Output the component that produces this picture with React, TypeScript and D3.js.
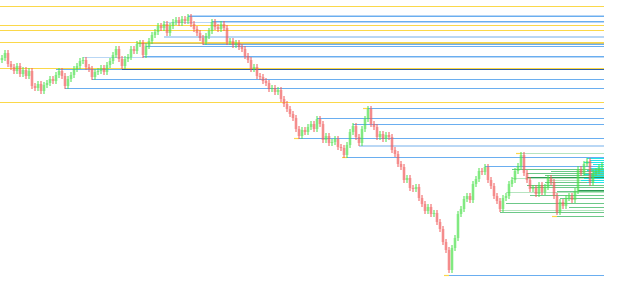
import React from "react";
import * as d3 from "d3";

const W = 625;
const H = 292;

// closing prices, one per bar
const closes = [
  242, 247, 236, 233, 229, 234, 226, 230, 224, 229,
  214, 212, 216, 209, 215, 217, 221, 219, 225, 229,
  224, 214, 221, 225, 231, 234, 239, 240, 233, 231,
  223, 228, 229, 232, 228, 235, 239, 245, 251, 241,
  234, 241, 243, 251, 249, 256, 257, 245, 254, 259,
  265, 268, 274, 272, 276, 267, 274, 278, 280, 277,
  281, 279, 283, 276, 271, 267, 262, 258, 264, 269,
  278, 273, 271, 276, 272, 258, 259, 255, 257, 253,
  251, 244, 240, 231, 233, 224, 223, 219, 217, 211,
  212, 208, 210, 201, 196, 191, 186, 182, 171, 164,
  170, 168, 173, 176, 171, 181, 176, 160, 164, 157,
  158, 161, 153, 152, 145, 155, 168, 174, 163, 157,
  171, 181, 191, 176, 173, 163, 166, 161, 165, 163,
  150, 146, 136, 133, 120, 122, 112, 111, 113, 102,
  96, 89, 93, 86, 87, 78, 71, 58, 50, 30,
  52, 62, 86, 91, 101, 104, 100, 116, 121, 129,
  128, 133, 120, 114, 104, 99, 91, 102, 104, 116,
  120, 129, 134, 145, 127, 120, 111, 112, 106, 115,
  108, 113, 122, 118, 104, 88, 98, 94, 102, 104,
  100, 109, 131, 127, 136, 139, 117, 127, 129, 133,
  135,
];

// horizontal levels: price, bar index where it starts, kind
const yellowLevels = [294, 275, 270, 258, 231.7, 197.7];

const blueLevels = [
  { p: 284.7, s: 62, k: "light" },
  { p: 283.7, s: 62, k: "blue" },
  { p: 279.5, s: 70, k: "blue" },
  { p: 278.3, s: 54, k: "light" },
  { p: 263.7, s: 54, k: "light" },
  { p: 262.7, s: 54, k: "light" },
  { p: 257.3, s: 45, k: "olive" },
  { p: 256, s: 67, k: "blue" },
  { p: 254, s: 48, k: "blue" },
  { p: 244, s: 47, k: "blue" },
  { p: 242.5, s: 27, k: "light" },
  { p: 231, s: 18, k: "blue" },
  { p: 230.7, s: 40, k: "navy" },
  { p: 220.7, s: 30, k: "blue" },
  { p: 211.7, s: 21, k: "blue" },
  { p: 191.7, s: 122, k: "blue" },
  { p: 181.7, s: 105, k: "blue" },
  { p: 175.7, s: 117, k: "blue" },
  { p: 162, s: 99, k: "blue" },
  { p: 154.8, s: 119, k: "light" },
  { p: 153.8, s: 119, k: "light" },
  { p: 143.3, s: 115, k: "blue" },
  { p: 134.3, s: 161, k: "blue" },
  { p: 25, s: 149, k: "blue" },
];

const greenLevels = [
  { p: 146.7, s: 173, k: "pale" },
  { p: 131, s: 170, k: "green" },
  { p: 129, s: 183, k: "green" },
  { p: 126.7, s: 175, k: "green" },
  { p: 125, s: 181, k: "green" },
  { p: 122.7, s: 175, k: "dark" },
  { p: 121.7, s: 170, k: "pale" },
  { p: 120, s: 182, k: "pale" },
  { p: 117.7, s: 181, k: "green" },
  { p: 115, s: 175, k: "green" },
  { p: 113.3, s: 176, k: "green" },
  { p: 110, s: 192, k: "dark" },
  { p: 109, s: 185, k: "green" },
  { p: 107.7, s: 168, k: "pale" },
  { p: 105, s: 176, k: "green" },
  { p: 101.7, s: 186, k: "green" },
  { p: 96.7, s: 168, k: "green" },
  { p: 93.3, s: 189, k: "green" },
  { p: 90, s: 166, k: "pale" },
  { p: 88.5, s: 166, k: "green" },
  { p: 84.3, s: 185, k: "green" },
];

const cyanLevels = [
  { p: 141.7, s: 195 },
  { p: 140, s: 196 },
  { p: 138, s: 194 },
  { p: 136, s: 197 },
  { p: 134, s: 198 },
  { p: 132, s: 196 },
  { p: 130, s: 195 },
  { p: 128, s: 197 },
  { p: 126, s: 194 },
  { p: 124, s: 196 },
  { p: 122, s: 194 },
  { p: 120, s: 193 },
  { p: 118, s: 195 },
];

// pivot markers (price, bar index)
const markers = [
  { p: 191.7, s: 122 },
  { p: 143.3, s: 115 },
  { p: 25, s: 149 },
  { p: 84.3, s: 185 },
  { p: 146.7, s: 173 },
  { p: 162, s: 99 },
];

const colors: Record<string, string> = {
  yellow: "#fbd84a",
  blue: "#6aaef0",
  light: "#b9d7f5",
  navy: "#2f5fa8",
  olive: "#c9c27a",
  green: "#6cc888",
  pale: "#b6e4c0",
  dark: "#2e9a55",
  cyan: "#22e6e6",
};

export default function App() {
  const x = d3.scaleLinear().domain([0, closes.length - 1]).range([2, 602]);
  const y = d3.scaleLinear().domain([300, 8]).range([0, H]);
  const endX = x(200.67);

  const bars = closes.map((c, i) => {
    const o = i === 0 ? 240 : closes[i - 1];
    const hi = Math.max(o, c) + 3;
    const lo = Math.min(o, c) - 3;
    return { i, o, c, hi, lo, up: c >= o };
  });

  const py = (p: number) => Math.round(y(p)) + 0.5;

  return (
    <div style={{ position: "fixed", left: 0, top: 0 }}>
      <svg width={W} height={H} style={{ display: "block", background: "#fff" }}>
        {yellowLevels.map((p, k) => (
          <line key={"y" + k} x1={0} x2={endX} y1={py(p)} y2={py(p)}
            stroke={colors.yellow} strokeWidth={1.2} />
        ))}
        {blueLevels.map((l, k) => (
          <line key={"b" + k} x1={x(l.s)} x2={endX} y1={py(l.p)} y2={py(l.p)}
            stroke={colors[l.k]} strokeWidth={1.2} />
        ))}
        {greenLevels.map((l, k) => (
          <line key={"g" + k} x1={x(l.s)} x2={endX} y1={py(l.p)} y2={py(l.p)}
            stroke={colors[l.k]} strokeWidth={1} />
        ))}
        {cyanLevels.map((l, k) => (
          <line key={"c" + k} x1={x(l.s)} x2={endX} y1={py(l.p)} y2={py(l.p)}
            stroke={colors.cyan} strokeWidth={1} />
        ))}
        {markers.map((m, k) => (
          <line key={"m" + k} x1={x(m.s) - 5} x2={x(m.s)} y1={py(m.p)} y2={py(m.p)}
            stroke={colors.yellow} strokeWidth={1.2} />
        ))}
        {bars.map((b) => {
          const col = b.up ? "#4be04b" : "#f05a5a";
          const top = y(Math.max(b.o, b.c));
          const bot = y(Math.min(b.o, b.c));
          return (
            <g key={"bar" + b.i}>
              <rect x={x(b.i) - 1.5} y={top} width={3} height={Math.max(1, bot - top)} fill={col} opacity={0.4} />
              <line x1={x(b.i)} x2={x(b.i)} y1={y(b.hi)} y2={y(b.lo)} stroke={col} strokeWidth={1} />
            </g>
          );
        })}
      </svg>
    </div>
  );
}
